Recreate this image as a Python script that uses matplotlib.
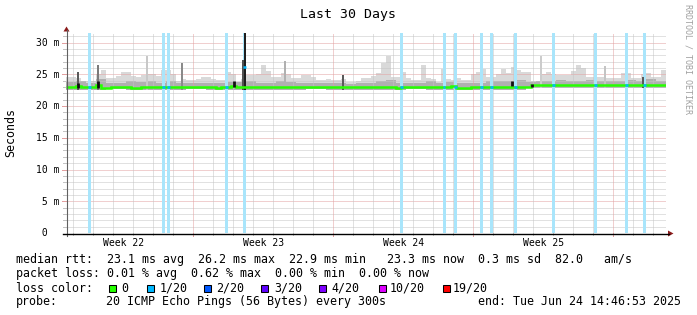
import matplotlib
matplotlib.use("Agg")
import matplotlib.pyplot as plt
import matplotlib.transforms as mtransforms
from matplotlib.patches import Rectangle, Polygon
from matplotlib.lines import Line2D
import numpy as np

W, H, DPI = 697, 315, 100
MONO = "DejaVu Sans Mono"

# ---------------- data ----------------
title = "Last 30 Days"
y_label = "Seconds"
watermark = "RRDTOOL / TOBI OETIKER"

n_days = 30
y_top = 31.5

# upper edge of the light smoke, 6-hour bins (ms)
smoke_top = [
    24.5, 24.5, 24.4, 23.9, 23.9, 24.0, 25.0, 25.7, 24.4, 24.4,
    24.8, 25.4, 25.3, 24.7, 24.6, 24.9, 25.0, 25.0, 24.8, 25.7,
    25.6, 25.0, 23.9, 24.3, 24.1, 24.1, 24.3, 24.6, 24.6, 24.2,
    24.1, 24.1, 25.4, 25.0, 23.8, 24.2, 24.9, 24.9, 25.0, 26.5,
    25.5, 24.6, 24.6, 25.2, 25.0, 24.4, 24.4, 24.9, 24.9, 24.6,
    24.1, 24.1, 24.2, 24.1, 24.1, 24.3, 23.8, 23.8, 23.9, 24.4,
    24.4, 24.8, 25.2, 26.7, 27.9, 24.6, 24.6, 25.4, 24.4, 24.1,
    24.1, 26.5, 24.4, 24.2, 23.8, 25.9, 24.3, 24.1, 24.4, 24.1,
    24.1, 25.0, 25.4, 25.9, 24.6, 24.6, 25.1, 25.9, 25.2, 26.2,
    25.6, 25.4, 25.4, 23.9, 24.0, 25.0, 25.4, 25.0, 24.9, 24.9,
    24.9, 25.5, 26.5, 26.0, 24.6, 24.6, 24.5, 24.6, 24.4, 24.4,
    24.4, 25.2, 25.2, 24.4, 24.4, 25.0, 25.2, 24.6, 24.6, 25.7,
]
# upper edge of the denser (darker) smoke, 12-hour bins
smoke_mid = [
    23.8, 23.9, 23.6, 24.2, 23.7, 23.7, 23.9, 23.8, 24.0, 23.7,
    23.9, 23.6, 23.7, 23.7, 23.6, 23.7, 23.8, 23.8, 23.9, 23.7,
    23.7, 23.9, 23.8, 23.7, 23.6, 23.7, 23.6, 23.7, 23.5, 23.6,
    23.7, 23.9, 24.1, 23.7, 23.7, 23.6, 23.9, 23.6, 23.8, 23.6,
    23.7, 23.7, 23.9, 24.0, 23.9, 24.1, 23.8, 23.9, 24.0, 24.1,
    23.9, 24.0, 24.1, 23.9, 24.0, 24.0, 24.1, 24.0, 24.2, 24.0,
]
# lower edge of the smoke, daily
smoke_min = [
    22.6, 22.6, 22.7, 22.6, 22.6, 22.6, 22.7, 22.6, 22.6, 22.6,
    22.6, 22.6, 22.7, 22.6, 22.6, 22.6, 22.6, 22.7, 22.6, 22.6,
    22.6, 22.6, 22.6, 22.8, 22.9, 22.9, 22.9, 22.9, 22.9, 22.9,
]
# median rtt, 6-hour bins
median_rtt = [
    23.0, 23.05, 23.2, 23.0, 23.0, 22.95, 23.3, 22.9, 22.9, 22.95,
    23.0, 23.0, 22.95, 22.9, 22.9, 23.0, 23.0, 23.05, 23.0, 22.95,
    22.95, 23.0, 23.0, 23.0, 23.0, 23.0, 22.95, 22.95, 22.95, 22.95,
    22.9, 22.95, 23.0, 23.2, 23.0, 23.0, 23.05, 23.0, 23.0, 23.0,
    23.05, 23.0, 22.95, 22.95, 23.0, 23.0, 23.0, 22.95, 22.95, 22.95,
    23.0, 23.0, 23.0, 23.0, 22.95, 23.0, 23.0, 22.95, 22.95, 22.95,
    22.95, 23.0, 23.0, 23.0, 22.95, 22.95, 22.9, 22.95, 23.0, 23.0,
    23.0, 23.0, 23.0, 23.0, 22.95, 23.0, 23.0, 23.1, 22.9, 22.9,
    22.9, 22.95, 22.95, 23.0, 23.0, 22.95, 22.95, 22.95, 22.95, 22.95,
    23.0, 22.95, 22.95, 23.3, 23.3, 23.3, 23.3, 23.3, 23.3, 23.3,
    23.25, 23.3, 23.3, 23.3, 23.25, 23.25, 23.3, 23.3, 23.3, 23.25,
    23.3, 23.3, 23.25, 23.3, 23.3, 23.3, 23.25, 23.3, 23.3, 23.3,
]

# packet-loss events (1/20)
loss_days = [1.15, 4.87, 5.13, 8.02, 8.9, 16.77, 18.9, 19.48, 20.75,
             21.25, 22.48, 24.38, 26.48, 28.0, 28.9]
loss_median = [23.0, 23.0, 23.0, 23.0, 26.2, 23.0, 23.0, 23.0, 22.95,
               22.95, 22.95, 23.3, 23.3, 23.3, 23.3]
loss_width = 0.15

# narrow smoke spikes
spike_days = [0.62, 1.62, 4.05, 5.8, 8.83, 8.93, 10.95, 13.85, 23.75, 26.95, 28.85]
spike_tops = [25.4, 26.4, 27.9, 26.7, 27.2, 31.5, 27.1, 24.9, 27.8, 26.3, 24.6]
spike_shades = ["#5a5a5a", "#7a7a7a", "#c8c8c8", "#8a8a8a", "#505050", "#1e1e1e",
                "#b0b0b0", "#5a5a5a", "#cccccc", "#c4c4c4", "#5a5a5a"]

# very dense (black) smoke spots
dark_days = [0.62, 1.62, 8.4, 22.3, 23.3]
dark_lo = [22.9, 22.9, 23.0, 23.2, 23.0]
dark_hi = [23.6, 23.9, 23.9, 23.9, 23.4]

week_labels = ["Week 22", "Week 23", "Week 24", "Week 25"]
week_label_days = [2.875, 9.875, 16.875, 23.875]
week_major_days = [6.35, 13.35, 20.35, 27.35]
first_day_line = 0.35

y_ticks = [0, 5, 10, 15, 20, 25, 30]
y_tick_labels = [" 0", " 5 m", "10 m", "15 m", "20 m", "25 m", "30 m"]

legend_rtt = "median rtt:  23.1 ms avg  26.2 ms max  22.9 ms min   23.3 ms now  0.3 ms sd  82.0   am/s"
legend_loss = "packet loss: 0.01 % avg  0.62 % max  0.00 % min  0.00 % now"
loss_color_title = "loss color:"
loss_levels = ["0", "1/20", "2/20", "3/20", "4/20", "10/20", "19/20"]
loss_colors = ["#26ff00", "#00b8ff", "#0059ff", "#5e00ff", "#7e00ff", "#dd00ff", "#ff0000"]
probe_title = "probe:"
probe_text = "20 ICMP Echo Pings (56 Bytes) every 300s"
end_text = "end: Tue Jun 24 14:46:53 2025"

# ---------------- figure ----------------
fig = plt.figure(figsize=(W / DPI, H / DPI), dpi=DPI)
fig.patch.set_facecolor("white")


def fx(px):
    return px / W


def fy(py):
    return 1 - py / H


ax = fig.add_axes([fx(66), fy(233), 600 / W, 200 / H])
ax.set_xlim(0, n_days)
ax.set_ylim(0, y_top)
ax.set_axis_off()

MINOR_C = "#c4c4c4"
MAJOR_C = "#e3a0a0"
DOT = (0, (1, 1))
GLW = 0.72

# smoke
edges_q = np.linspace(0, n_days, len(smoke_top) + 1)
edges_h = np.linspace(0, n_days, len(smoke_mid) + 1)
rep_q = len(smoke_top) // len(smoke_min)
rep_h = len(smoke_mid) // len(smoke_min)
ax.stairs(smoke_top, edges_q, baseline=np.repeat(smoke_min, rep_q), fill=True,
          color="#d9d9d9", lw=0, zorder=1)
ax.stairs(smoke_mid, edges_h, baseline=np.repeat(smoke_min, rep_h), fill=True,
          color="#b0b0b0", lw=0, zorder=1.1)

# grid
for yv in range(1, int(y_top) + 1):
    if yv % 5 == 0:
        ax.axhline(yv, color=MAJOR_C, lw=GLW, ls=DOT, zorder=1.5)
        ax.axhline(yv, xmin=-0.006, xmax=0, color=MAJOR_C, lw=GLW, clip_on=False)
    else:
        ax.axhline(yv, color=MINOR_C, lw=GLW, ls=DOT, zorder=1.5)
        ax.axhline(yv, xmin=-0.005, xmax=0, color=MINOR_C, lw=GLW, clip_on=False)
for xv in np.arange(first_day_line, n_days, 1.0):
    is_major = any(abs(xv - m) < 1e-6 for m in week_major_days)
    c = MAJOR_C if is_major else MINOR_C
    ax.axvline(xv, color=c, lw=GLW, ls=DOT, zorder=1.5)
    ax.axvline(xv, ymin=-0.015 if is_major else -0.01, ymax=0, color=c, lw=GLW,
               clip_on=False)

# loss bars
for d in loss_days:
    ax.axvspan(d - loss_width / 2, d + loss_width / 2, color="#a9e5fb", lw=0, zorder=2)

# spikes (above loss bars)
spike_base = [smoke_min[int(d)] for d in spike_days]
ax.vlines(spike_days, spike_base, spike_tops, colors=spike_shades, lw=1.44, zorder=2.5)

# median
ax.stairs(median_rtt, edges_q, baseline=None, color="#26ff00", lw=1.8, zorder=3)
for d, m in zip(loss_days, loss_median):
    ax.hlines(m, d - loss_width / 2, d + loss_width / 2, color="#00b8ff", lw=1.8, zorder=3.2)
ax.vlines(dark_days, dark_lo, dark_hi, colors="#111111", lw=2.0, zorder=3.4)

# axes lines and arrows (pixel coordinates)
pix = mtransforms.IdentityTransform()


def P(x, y):
    return (x, H - y)


fig.add_artist(Line2D([66.5, 66.5], [H - 236, H - 30], transform=pix, color="#606060", lw=0.8))
fig.add_artist(Line2D([63, 669], [H - 233.5, H - 233.5], transform=pix, color="#000000", lw=1.0))
fig.add_artist(Polygon([P(63.5, 31.5), P(69.5, 31.5), P(66.5, 26.5)], closed=True,
                       transform=pix, color="#8b1a1a", lw=0))
fig.add_artist(Polygon([P(668, 230.5), P(668, 236.5), P(673.5, 233.5)], closed=True,
                       transform=pix, color="#8b1a1a", lw=0))

# tick labels
ytrans = mtransforms.offset_copy(
    mtransforms.blended_transform_factory(fig.transFigure, ax.transData),
    fig=fig, x=0, y=-3.4, units="dots")
for v, lab in zip(y_ticks, y_tick_labels):
    ax.text(fx(36), v, lab, transform=ytrans, ha="left", va="baseline",
            fontsize=7, family=MONO, color="black")
xtrans = mtransforms.blended_transform_factory(ax.transData, fig.transFigure)
for d, lab in zip(week_label_days, week_labels):
    ax.text(d, fy(246), lab, transform=xtrans, ha="center", va="baseline",
            fontsize=7, family=MONO, color="black")

# titles
fig.text(fx(347.5), fy(18), title, ha="center", va="baseline", fontsize=9.5, family=MONO)
fig.text(fx(11), fy(132), y_label, ha="center", va="center", rotation=90,
         fontsize=8.4, family=MONO)
fig.text(fx(688), fy(59), watermark, ha="center", va="center", rotation=270,
         fontsize=6, family=MONO, color="#a0a0a0")

# legend
LFS = 8.4
fig.text(fx(16), fy(263.5), legend_rtt, ha="left", va="baseline", fontsize=LFS, family=MONO)
fig.text(fx(16), fy(277.5), legend_loss, ha="left", va="baseline", fontsize=LFS, family=MONO)
fig.text(fx(16), fy(291.5), loss_color_title, ha="left", va="baseline", fontsize=LFS, family=MONO)
box_x = [108, 146, 203, 260, 318, 378, 442]
text_x = [121.5, 159.5, 216.5, 274, 331.5, 389.5, 452.5]
for bx, tx, lab, col in zip(box_x, text_x, loss_levels, loss_colors):
    fig.add_artist(Rectangle((bx + 0.5, H - 291.5), 7, 7, transform=pix,
                             facecolor=col, edgecolor="black", lw=0.75))
    fig.text(fx(tx), fy(291.5), lab, ha="left", va="baseline", fontsize=LFS, family=MONO)
fig.text(fx(16), fy(305), probe_title, ha="left", va="baseline", fontsize=LFS, family=MONO)
fig.text(fx(106), fy(305), probe_text, ha="left", va="baseline", fontsize=LFS, family=MONO)
fig.text(fx(680.5), fy(305), end_text, ha="right", va="baseline", fontsize=LFS, family=MONO)

fig.savefig("out.png", dpi=DPI, facecolor="white")
